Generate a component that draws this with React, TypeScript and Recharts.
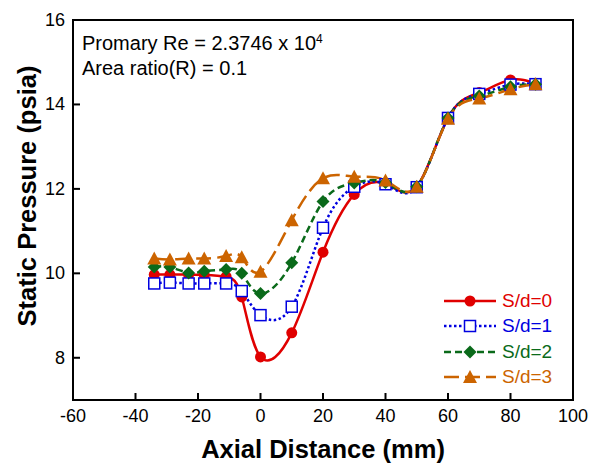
import { LineChart, Line, XAxis, YAxis, ReferenceArea } from "recharts";

const axialMm = [-34, -29, -23, -18, -11, -6, 0, 10, 20, 30, 40, 50, 60, 70, 80, 88];
const sd0 = [9.97, 9.97, 9.97, 9.96, 9.92, 9.44, 8.02, 8.59, 10.5, 11.87, 12.12, 12.05, 13.68, 14.28, 14.58, 14.5];
const sd1 = [9.76, 9.78, 9.76, 9.76, 9.76, 9.58, 9.01, 9.21, 11.08, 12.05, 12.11, 12.04, 13.68, 14.25, 14.47, 14.48];
const sd2 = [10.15, 10.15, 10.01, 10.05, 10.09, 10.0, 9.52, 10.25, 11.7, 12.14, 12.15, 12.05, 13.68, 14.2, 14.42, 14.48];
const sd3 = [10.35, 10.33, 10.35, 10.35, 10.41, 10.38, 10.04, 11.26, 12.25, 12.29, 12.2, 12.05, 13.66, 14.14, 14.36, 14.48];

const xTicks = [-60, -40, -20, 0, 20, 40, 60, 80, 100];
const yTicks = [8, 10, 12, 14, 16];

const data = axialMm.map((x, i) => ({ x, sd0: sd0[i], sd1: sd1[i], sd2: sd2[i], sd3: sd3[i] }));

const FONT = "'Liberation Sans', Arial, sans-serif";
const RED = "#e00000";
const BLUE = "#0000e0";
const GREEN = "#0a6a1a";
const ORANGE = "#cc6400";

type Shape = "circle" | "square" | "diamond" | "triangle";

const Marker = ({ cx, cy, shape, color }: { cx: number; cy: number; shape: Shape; color: string }) => {
  if (shape === "circle") return <circle cx={cx} cy={cy} r={5.5} fill={color} />;
  if (shape === "square")
    return <rect x={cx - 5.5} y={cy - 5.5} width={11} height={11} fill="#fff" stroke={color} strokeWidth={1.5} />;
  if (shape === "diamond")
    return <polygon points={`${cx},${cy - 6.5} ${cx + 6.5},${cy} ${cx},${cy + 6.5} ${cx - 6.5},${cy}`} fill={color} />;
  return <polygon points={`${cx},${cy - 7} ${cx + 7},${cy + 6} ${cx - 7},${cy + 6}`} fill={color} />;
};

const series = [
  { key: "sd0", name: "S/d=0", color: RED, dash: undefined, shape: "circle" as Shape },
  { key: "sd1", name: "S/d=1", color: BLUE, dash: "2.5 2.5", shape: "square" as Shape },
  { key: "sd2", name: "S/d=2", color: GREEN, dash: "7 4", shape: "diamond" as Shape },
  { key: "sd3", name: "S/d=3", color: ORANGE, dash: "15 6", shape: "triangle" as Shape },
];

const XTick = ({ x, y, payload }: any) => (
  <g>
    <line x1={x} y1={y} x2={x} y2={y - 7} stroke="#000" strokeWidth={2} />
    <text x={x} y={y + 22} textAnchor="middle" fontSize={18} fontFamily={FONT} fill="#000">
      {payload.value}
    </text>
  </g>
);

const YTick = ({ x, y, payload }: any) => (
  <g>
    <line x1={x} y1={y} x2={x + 7} y2={y} stroke="#000" strokeWidth={2} />
    <text x={x - 8} y={y + 6} textAnchor="end" fontSize={18} fontFamily={FONT} fill="#000">
      {payload.value}
    </text>
  </g>
);

const LegendBox = () => (
  <div style={{ position: "absolute", left: 442, top: 288, fontFamily: FONT }}>
    {series.map((s) => (
      <div key={s.key} style={{ display: "flex", alignItems: "center", height: 25.5 }}>
        <svg width={58} height={20}>
          <line x1={2} y1={10} x2={54} y2={10} stroke={s.color} strokeWidth={2.5} strokeDasharray={s.dash} />
          <Marker cx={28} cy={10} shape={s.shape} color={s.color} />
        </svg>
        <span style={{ color: s.color, fontSize: 19, marginLeft: 2 }}>{s.name}</span>
      </div>
    ))}
  </div>
);

export default function App() {
  return (
    <div style={{ position: "absolute", left: 0, top: 0, width: 594, height: 466, background: "#fff" }}>
      <LineChart width={594} height={466} data={data} margin={{ top: 20, right: 21, bottom: 16, left: 13 }}>
        <XAxis
          dataKey="x"
          type="number"
          domain={[-60, 100]}
          ticks={xTicks}
          tickSize={0}
          tickMargin={0}
          tick={<XTick />}
          axisLine={{ stroke: "#000", strokeWidth: 2 }}
          height={50}
          label={{ value: "Axial Distance (mm)", position: "insideBottom", offset: -8, fontSize: 25.5, fontWeight: "bold", fontFamily: FONT, fill: "#000" }}
        />
        <YAxis
          type="number"
          domain={[7, 16]}
          ticks={yTicks}
          tickSize={0}
          tickMargin={0}
          tick={<YTick />}
          axisLine={{ stroke: "#000", strokeWidth: 2 }}
          width={60}
          label={{ value: "Static Pressure (psia)", angle: -90, position: "insideLeft", offset: 14, dy: -14, fontSize: 25.5, fontWeight: "bold", fontFamily: FONT, fill: "#000", style: { textAnchor: "middle" } }}
        />
        <ReferenceArea x1={-60} x2={100} y1={7} y2={16} fill="none" stroke="#000" strokeWidth={2} fillOpacity={0} />
        {series.map((s) => (
          <Line
            key={s.key}
            dataKey={s.key}
            name={s.name}
            type="natural"
            stroke={s.color}
            strokeWidth={2.5}
            strokeDasharray={s.dash}
            isAnimationActive={false}
            dot={(p: any) => <Marker key={`${s.key}-${p.index}`} cx={p.cx} cy={p.cy} shape={s.shape} color={s.color} />}
            activeDot={false}
          />
        ))}
      </LineChart>
      <LegendBox />
      <div style={{ position: "absolute", left: 82, top: 31, fontFamily: FONT, fontSize: 20, lineHeight: "25px", color: "#000" }}>
        <div>
          Promary Re = 2.3746 x 10<sup style={{ fontSize: 12, verticalAlign: "top", lineHeight: "16px" }}>4</sup>
        </div>
        <div>Area ratio(R) = 0.1</div>
      </div>
    </div>
  );
}
